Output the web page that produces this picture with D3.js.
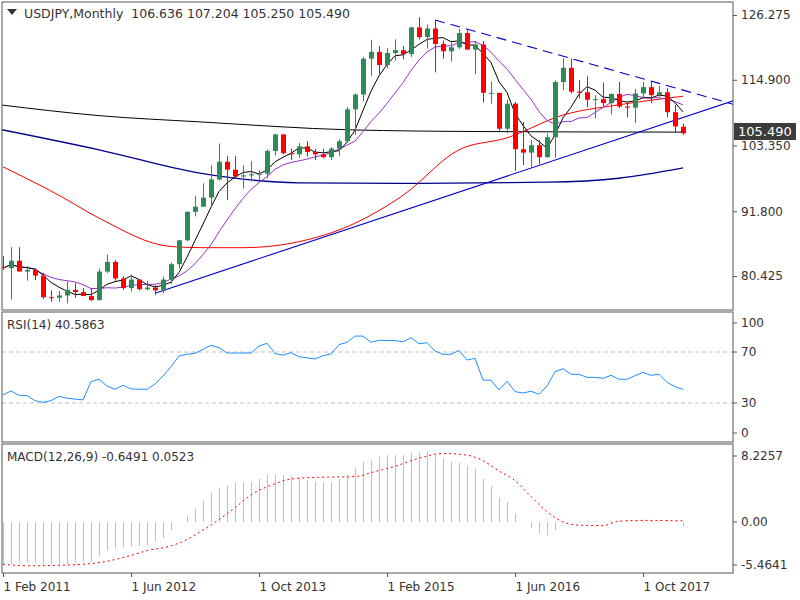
<!DOCTYPE html>
<html><head><meta charset="utf-8">
<script src="https://cdn.jsdelivr.net/npm/d3@7"></script>
<style>body{margin:0;background:#fff}svg{display:block;font-family:Tahoma,"DejaVu Sans",sans-serif}</style>
</head><body><svg id="c" width="800" height="600"></svg>
<script>
const opens=[82.0,81.8,83.1,81.2,81.5,80.5,76.7,76.6,77.0,78.0,77.6,76.9,76.2,81.2,82.9,80.0,78.3,79.8,78.1,78.4,77.9,79.8,82.5,86.7,91.7,92.6,94.2,97.4,100.5,99.1,97.9,98.1,98.3,98.4,102.4,105.3,102.0,101.8,103.2,102.2,101.8,101.3,102.8,104.1,109.7,112.3,118.6,119.8,117.5,119.6,120.1,119.4,124.1,122.4,123.9,121.2,119.9,120.6,123.1,120.2,121.1,112.6,112.6,106.3,110.7,102.7,102.1,103.4,101.3,104.8,114.5,117.0,112.8,112.7,111.4,111.5,110.8,112.4,110.2,110.0,112.5,113.6,112.2,112.7,109.2,106.636];
const highs=[83.9,85.5,85.5,82.2,81.8,81.0,77.9,77.8,79.5,79.2,78.3,78.3,81.7,84.2,83.2,80.4,80.7,79.9,79.6,78.8,80.3,82.8,86.8,91.8,94.5,96.7,99.9,103.7,101.5,101.5,99.9,100.6,99.0,102.7,105.4,105.4,102.8,103.8,104.1,102.8,102.8,103.1,104.5,110.1,112.5,118.9,121.9,120.8,120.5,122.0,120.8,124.2,125.9,124.6,125.3,121.8,121.5,123.8,123.6,121.7,121.7,114.6,112.6,111.4,111.0,107.5,104.3,104.3,105.5,114.8,118.7,118.6,114.9,115.5,112.2,114.4,112.5,114.5,111.1,113.3,114.5,114.7,113.8,113.4,110.5,107.204];
const lows=[81.5,76.3,81.3,79.6,79.7,76.4,75.9,75.9,75.6,76.6,76.9,76.0,76.1,80.9,79.6,78.0,77.7,77.9,77.9,77.1,77.4,79.0,81.7,86.5,90.9,92.6,92.6,97.2,93.8,97.6,95.8,97.0,96.9,97.6,101.6,101.8,100.8,101.2,101.4,100.8,101.1,100.8,101.5,103.8,105.2,111.1,115.6,115.9,116.9,118.3,118.5,118.9,122.0,120.4,116.2,118.6,118.1,120.3,120.2,115.9,110.9,110.7,105.9,105.5,98.9,99.9,99.5,100.1,101.2,101.2,113.1,112.5,111.6,110.1,108.1,110.2,108.8,109.9,108.3,107.3,111.6,110.8,111.9,108.3,105.6,105.25];
const closes=[81.8,83.1,81.2,81.5,80.5,76.7,76.6,77.0,78.0,77.6,76.9,76.2,81.2,82.9,80.0,78.3,79.8,78.1,78.4,77.9,79.8,82.5,86.7,91.7,92.6,94.2,97.4,100.5,99.1,97.9,98.1,98.3,98.4,102.4,105.3,102.0,101.8,103.2,102.2,101.8,101.3,102.8,104.1,109.7,112.3,118.6,119.8,117.5,119.6,120.1,119.4,124.1,122.4,123.9,121.2,119.9,120.6,123.1,120.2,121.1,112.6,112.6,106.3,110.7,102.7,102.1,103.4,101.3,104.8,114.5,117.0,112.8,112.7,111.4,111.5,110.8,112.4,110.2,110.0,112.5,113.6,112.2,112.7,109.2,106.7,105.49];
// long moving averages [monthIndex, value]
const maRed=[[0,99.6],[7,94.6],[12,90.6],[21,85.6],[25,85.4],[30,85.4],[41,88.0],[50,94.6],[57,102.6],[63,104.7],[70,108.7],[77,110.5],[85,112.0]];
const maBlack=[[-0.4,110.5],[12,108.6],[24.6,107.5],[43.4,106.1],[60,105.8],[85,105.7]];
const maNavy=[[-0.4,106.2],[12,102.6],[24.6,98.5],[37,96.8],[49.6,96.7],[68,96.9],[77,97.6],[85,99.4]];
const trendUp=[[19,77.4],[91.5,111.3]];
const trendDown=[[54,125.4],[91.5,110.5]];
const rsi=[[0,36.3],[1,39.4],[2,36],[3,35.8],[4,31.8],[5,30.5],[6,31.8],[7,35.2],[8,33.7],[10,32.4],[11,46.7],[12,48.6],[13,43.3],[14,40.7],[15,43.9],[16,41],[18,40.7],[19,44.9],[20,51.2],[21,58.5],[22,66.9],[23,68.2],[24,69],[25,72.1],[26,75.2],[27,73.4],[28,69.2],[31,69.2],[32,74.7],[33,76.8],[34,68.7],[35,67.6],[36,69.5],[37,66.3],[39,64.5],[40,67.1],[41,68.4],[42,75.8],[43,77.6],[44,82.5],[45,82.5],[46,77.6],[47,79.2],[49,78.9],[50,78],[51,81.2],[52,76.5],[53,77.3],[54,70.8],[55,68.2],[56,68.2],[57,71.3],[58,63.7],[59,65],[60,48],[61,47.8],[62,40.2],[63,47],[64,38.9],[65,37.8],[66,39.2],[67,36.8],[68,43.3],[69,54.6],[70,56.9],[71,52.5],[72,52.5],[73,50.1],[74,50.1],[75,49.3],[76,51.7],[77,48.6],[78,48.6],[79,51.4],[80,54],[81,51.7],[82,52.5],[83,46.2],[84,42.8],[85,40.6]];
const macdHist=[-5.3,-5.3,-5.1,-5.1,-5.1,-5.3,-5.3,-5.3,-5.3,-5.1,-5.0,-5.0,-4.3,-3.6,-3.3,-3.2,-3.1,-3.0,-2.9,-2.4,-2.0,-1.0,0.0,0.8,1.7,2.7,3.7,4.3,4.6,4.9,5.0,5.1,5.4,5.9,5.9,5.9,5.8,5.5,5.3,5.1,5.0,5.0,5.4,5.9,6.8,7.6,7.8,8.2,8.4,8.4,8.4,8.7,8.7,8.9,8.4,8.0,7.6,7.4,7.1,6.7,5.4,4.5,3.1,2.5,1.1,0.0,-0.75,-1.4,-1.7,-1.0,-0.1,0.0,0.05,0.1,0.1,0.05,0.15,0.2,0.2,0.15,0.2,0.25,0.2,0.15,0.1,-0.65];
const macdSignal=[[0,-5.3],[3,-5.5],[8,-5.4],[12,-5.1],[16,-4.2],[18,-3.6],[21,-3.0],[23,-2.2],[25,-1.0],[27,0.3],[29,1.8],[31,3.4],[34,4.8],[36,5.4],[39,5.6],[44,5.7],[46,6.2],[49,7.0],[52,8.0],[55,8.6],[58,8.4],[60,7.7],[62,6.4],[64,5.2],[66,3.2],[68,1.3],[70,0],[72,-0.4],[75,-0.45],[77,0.1],[80,0.2],[85,0.15]];
const priceTicks=[80.425,91.8,103.35,114.9,126.275];
const priceLabels=["80.425","91.800","103.350","114.900","126.275"];
const rsiTicks=[100,70,30,0];
const macdTicks=[8.2257,0.00,-5.4641];
const macdLabels=["8.2257","0.00","-5.4641"];
const dateTicks=[0,16,32,48,64,80];
const dateLabels=["1 Feb 2011","1 Jun 2012","1 Oct 2013","1 Feb 2015","1 Jun 2016","1 Oct 2017"];

const svg=d3.select("#c");
const L=2,R=733;
const x=d3.scaleLinear().domain([0,1]).range([3,11]);
const y=d3.scaleLinear().domain([80.425,126.275]).range([276,15]);
const yr=d3.scaleLinear().domain([0,70]).range([441.2,352]);
const ym=d3.scaleLinear().domain([0,8.2257]).range([522,456.5]);
const panels=[[2,310],[312,442],[444,573]];
const defs=svg.append("defs");
panels.forEach((p,i)=>defs.append("clipPath").attr("id","cp"+i).append("rect").attr("x",L).attr("y",p[0]).attr("width",R-L).attr("height",p[1]-p[0]));
const g0=svg.append("g").attr("clip-path","url(#cp0)");
const line=d3.line().x(d=>x(d[0])).y(d=>y(d[1]));
function sma(n){return closes.map((c,i)=>{const s=closes.slice(Math.max(0,i-n+1),i+1);return [i,d3.mean(s)];});}
const curve=d3.curveMonotoneX;
g0.append("path").attr("d",line.curve(curve)(maBlack)).attr("fill","none").attr("stroke","#000").attr("stroke-width",1);
g0.append("path").attr("d",line.curve(curve)(maNavy)).attr("fill","none").attr("stroke","#00008B").attr("stroke-width",1.3);
g0.append("path").attr("d",line.curve(curve)(maRed)).attr("fill","none").attr("stroke","#ff0000").attr("stroke-width",1);
g0.append("path").attr("d",line.curve(d3.curveLinear)(trendUp)).attr("fill","none").attr("stroke","#0000cc").attr("stroke-width",1.1);
g0.append("path").attr("d",line.curve(d3.curveLinear)(trendDown)).attr("fill","none").attr("stroke","#0000cc").attr("stroke-width",1.1).attr("stroke-dasharray","10,6");
g0.append("path").attr("d",line.curve(d3.curveLinear)(sma(10))).attr("fill","none").attr("stroke","#9932CC").attr("stroke-width",1);
g0.append("path").attr("d",line.curve(d3.curveLinear)(sma(5))).attr("fill","none").attr("stroke","#000").attr("stroke-width",1);
const cd=opens.map((o,i)=>({i,o,h:highs[i],l:lows[i],c:closes[i]}));
const cg=g0.selectAll(".cd").data(cd).enter().append("g").attr("fill",d=>d.c>=d.o?"#2e8b57":"#ff0000").attr("stroke",d=>d.c>=d.o?"#2e8b57":"#ff0000");
cg.append("line").attr("x1",d=>x(d.i)+0.5).attr("x2",d=>x(d.i)+0.5).attr("y1",d=>y(d.h)).attr("y2",d=>y(d.l)).attr("stroke-width",1);
cg.append("rect").attr("x",d=>x(d.i)-2).attr("width",5).attr("y",d=>y(Math.max(d.o,d.c))).attr("height",d=>Math.max(1,Math.abs(y(d.o)-y(d.c)))).attr("stroke","none");
const g1=svg.append("g").attr("clip-path","url(#cp1)");
[70,30].forEach(v=>g1.append("line").attr("x1",L).attr("x2",R).attr("y1",yr(v)).attr("y2",yr(v)).attr("stroke","#c0c0c0").attr("stroke-dasharray","4,3"));
g1.append("path").attr("d",d3.line().x(d=>x(d[0])).y(d=>yr(d[1]))(rsi)).attr("fill","none").attr("stroke","#1e90ff").attr("stroke-width",1);
const g2=svg.append("g").attr("clip-path","url(#cp2)");
g2.selectAll(".h").data(macdHist).enter().append("line").attr("x1",(d,i)=>x(i)+0.5).attr("x2",(d,i)=>x(i)+0.5).attr("y1",ym(0)).attr("y2",d=>ym(d)).attr("stroke","#c0c0c0").attr("stroke-width",1);
g2.append("path").attr("d",d3.line().x(d=>x(d[0])).y(d=>ym(d[1])).curve(d3.curveMonotoneX)(macdSignal)).attr("fill","none").attr("stroke","#ff0000").attr("stroke-width",1).attr("stroke-dasharray","2,3");
panels.forEach(p=>svg.append("rect").attr("x",L).attr("y",p[0]).attr("width",R-L).attr("height",p[1]-p[0]).attr("fill","none").attr("stroke","#555").attr("stroke-width",1));
const txt=(s,xx,yy,opt={})=>svg.append("text").attr("x",xx).attr("y",yy).text(s).attr("font-size",opt.fs||12).attr("fill",opt.fill||"#333").attr("text-anchor",opt.anchor||"start").attr("dominant-baseline","middle");
const ax=(scale,ticks,fmt)=>{const a=svg.append("g").attr("transform",`translate(${R},0)`).call(d3.axisRight(scale).tickValues(ticks).tickFormat(fmt).tickSize(4).tickPadding(4));a.select(".domain").remove();a.selectAll("text").attr("font-size",12).attr("fill","#333").attr("font-family",'Tahoma,"DejaVu Sans",sans-serif');a.selectAll("line").attr("stroke","#555");return a;};
ax(y,priceTicks,(d,i)=>priceLabels[i]);
const ra=ax(yr,rsiTicks,d=>d);
ra.selectAll(".tick").attr("transform",d=>`translate(0,${d===100?323:d===0?433:yr(d)})`);
const ma=ax(ym,macdTicks,(d,i)=>macdLabels[i]);
ma.selectAll(".tick").attr("transform",d=>`translate(0,${d>5?456:d<-5?565:ym(d)})`);
svg.append("rect").attr("x",734).attr("y",123).attr("width",62).attr("height",17).attr("fill","#3c3c3c");
txt("105.490",738,132,{fill:"#fff",fs:13});
const xa=svg.append("g").attr("transform","translate(0,573)").call(d3.axisBottom(x).tickValues(dateTicks).tickFormat((d,i)=>dateLabels[i]).tickSize(4).tickPadding(5));
xa.select(".domain").remove();xa.selectAll("line").attr("stroke","#555");
xa.selectAll("text").attr("text-anchor","start").attr("font-size",12).attr("fill","#333").attr("font-family",'Tahoma,"DejaVu Sans",sans-serif');
svg.append("path").attr("d","M7,9 L17,9 L12,15 Z").attr("fill","#333");
txt("USDJPY,Monthly  106.636 107.204 105.250 105.490",24,14,{fs:12.5}).style("white-space","pre");
txt("RSI(14) 40.5863",7,325);
txt("MACD(12,26,9) -0.6491 0.0523",7,457);
</script></body></html>
